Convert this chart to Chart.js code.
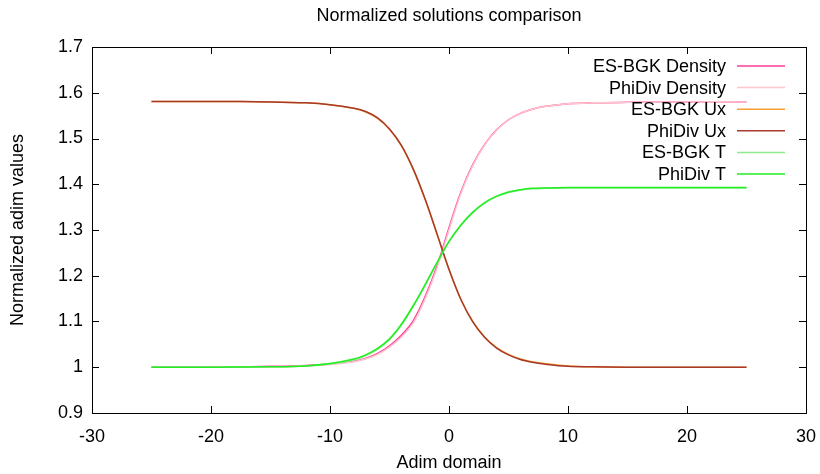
<!DOCTYPE html>
<html>
<head>
<meta charset="utf-8">
<script src="https://cdn.jsdelivr.net/npm/chart.js@4/dist/chart.umd.min.js"></script>
<style>
  html, body { margin: 0; padding: 0; background: #ffffff; }
  canvas { display: block; }
</style>
</head>
<body>
<canvas id="c" width="820" height="474"></canvas>
<script>
// ---- data ----
const xValues = [-25,-20,-15,-12,-10,-8,-7,-6,-5,-4,-3,-2,-1,0,1,2,3,4,5,6,7,8,10,12,15,20,25];

const esDensity  = [1.000,1.000,1.002,1.004,1.007,1.013,1.019,1.030,1.047,1.070,1.102,1.155,1.222,1.305,1.383,1.443,1.487,1.519,1.541,1.555,1.564,1.570,1.576,1.578,1.579,1.580,1.580];
const phiDensity = [1.000,1.000,1.001,1.003,1.006,1.012,1.018,1.028,1.044,1.066,1.097,1.150,1.217,1.300,1.380,1.441,1.486,1.518,1.541,1.555,1.564,1.570,1.576,1.578,1.579,1.580,1.580];
const esUx       = [1.581,1.581,1.580,1.578,1.574,1.566,1.558,1.544,1.520,1.484,1.432,1.366,1.290,1.213,1.148,1.100,1.066,1.043,1.028,1.018,1.012,1.008,1.003,1.001,1.000,1.000,1.000];
const phiUx      = [1.581,1.581,1.580,1.578,1.574,1.566,1.559,1.545,1.521,1.485,1.433,1.367,1.291,1.214,1.148,1.099,1.065,1.042,1.027,1.017,1.011,1.007,1.002,1.001,1.000,1.000,1.000];
const esT        = [1.000,1.000,1.001,1.003,1.007,1.016,1.025,1.039,1.060,1.092,1.133,1.179,1.228,1.274,1.310,1.338,1.359,1.373,1.382,1.387,1.390,1.391,1.392,1.392,1.392,1.392,1.392];
const phiT       = [1.000,1.000,1.001,1.003,1.008,1.018,1.027,1.041,1.062,1.094,1.135,1.181,1.229,1.275,1.311,1.339,1.360,1.374,1.383,1.388,1.391,1.392,1.393,1.393,1.393,1.393,1.393];

const seriesNames = ['ES-BGK Density','PhiDiv Density','ES-BGK Ux','PhiDiv Ux','ES-BGK T','PhiDiv T'];
const seriesColors = ['#ff3d9a','#ffc4cc','#f5a030','#a83a2a','#8ee88e','#22ee22'];
const seriesValues = [esDensity, phiDensity, esUx, phiUx, esT, phiT];

const xTickValues = [-30,-20,-10,0,10,20,30];
const yTickValues = [0.9,1.0,1.1,1.2,1.3,1.4,1.5,1.6,1.7];

const chartTitle = 'Normalized solutions comparison';
const xTitle = 'Adim domain';
const yTitle = 'Normalized adim values';

const FONT = '"Liberation Sans", Arial, Helvetica, sans-serif';
const FS = 18;

const datasets = seriesValues.map((vals, i) => ({
  label: seriesNames[i],
  data: xValues.map((x, k) => ({x: x, y: vals[k]})),
  borderColor: seriesColors[i],
  backgroundColor: seriesColors[i],
  borderWidth: 1.5,
  pointRadius: 0,
  fill: false,
  tension: 0.35,
  order: seriesValues.length - 1 - i
}));

const framePlugin = {
  id: 'frame',
  afterDatasetsDraw(chart) {
    const ctx = chart.ctx;
    const a = chart.chartArea;
    const xs = chart.scales.x, ys = chart.scales.y;
    const TL = 7;
    ctx.save();
    ctx.strokeStyle = '#000';
    ctx.lineWidth = 1;
    ctx.beginPath();
    xTickValues.forEach(v => {
      const px = Math.round(xs.getPixelForValue(v)) + 0.5;
      ctx.moveTo(px, a.bottom); ctx.lineTo(px, a.bottom - TL);
      ctx.moveTo(px, a.top); ctx.lineTo(px, a.top + TL);
    });
    yTickValues.forEach(v => {
      const py = Math.round(ys.getPixelForValue(v)) + 0.5;
      ctx.moveTo(a.left, py); ctx.lineTo(a.left + TL, py);
      ctx.moveTo(a.right, py); ctx.lineTo(a.right - TL, py);
    });
    ctx.stroke();
    ctx.strokeRect(Math.round(a.left) + 0.5, Math.round(a.top) + 0.5,
                   Math.round(a.right - a.left), Math.round(a.bottom - a.top));

    // gnuplot-style key, top right
    ctx.font = FS + 'px ' + FONT;
    ctx.textAlign = 'right';
    ctx.textBaseline = 'middle';
    const textRight = a.right - 80;
    const lx0 = a.right - 69, lx1 = a.right - 21;
    const y0 = a.top + 19, dy = 21.6;
    seriesNames.forEach((name, i) => {
      const y = y0 + i * dy;
      ctx.fillStyle = '#000';
      ctx.fillText(name, textRight, y + 1);
      ctx.strokeStyle = seriesColors[i];
      ctx.lineWidth = 1.5;
      ctx.beginPath();
      ctx.moveTo(lx0, y); ctx.lineTo(lx1, y);
      ctx.stroke();
    });
    ctx.restore();
  }
};

new Chart(document.getElementById('c'), {
  type: 'line',
  data: { datasets: datasets },
  plugins: [framePlugin],
  options: {
    responsive: false,
    devicePixelRatio: 1,
    animation: false,
    layout: { padding: { left: 0, right: 14, top: 0, bottom: 0 } },
    plugins: {
      legend: { display: false },
      tooltip: { enabled: false },
      title: {
        display: true,
        fullSize: false,
        text: chartTitle,
        color: '#000',
        font: { family: FONT, size: FS, weight: 'normal' },
        padding: { top: 5, bottom: 20.4 }
      }
    },
    scales: {
      x: {
        type: 'linear',
        min: -30, max: 30,
        afterBuildTicks: s => { s.ticks = xTickValues.map(v => ({value: v})); },
        ticks: {
          color: '#000',
          font: { family: FONT, size: FS },
          padding: 13,
          maxRotation: 0,
          autoSkip: false,
          callback: v => String(v)
        },
        grid: { display: false, drawTicks: false },
        border: { display: false },
        title: {
          display: true, text: xTitle, color: '#000',
          font: { family: FONT, size: FS },
          padding: { top: 0, bottom: 0 }
        },
        afterFit: s => { s.height = 61; s.paddingLeft = 0; s.paddingRight = 0; }
      },
      y: {
        type: 'linear',
        min: 0.9, max: 1.7,
        afterBuildTicks: s => { s.ticks = yTickValues.map(v => ({value: v})); },
        ticks: {
          color: '#000',
          font: { family: FONT, size: FS },
          padding: 9,
          autoSkip: false,
          callback: v => String(parseFloat(v.toFixed(1)))
        },
        grid: { display: false, drawTicks: false },
        border: { display: false },
        title: {
          display: true, text: yTitle, color: '#000',
          font: { family: FONT, size: FS },
          padding: { top: 7, bottom: 0 }
        },
        afterFit: s => { s.width = 92; s.paddingTop = 0; s.paddingBottom = 0; }
      }
    }
  }
});
</script>
</body>
</html>
